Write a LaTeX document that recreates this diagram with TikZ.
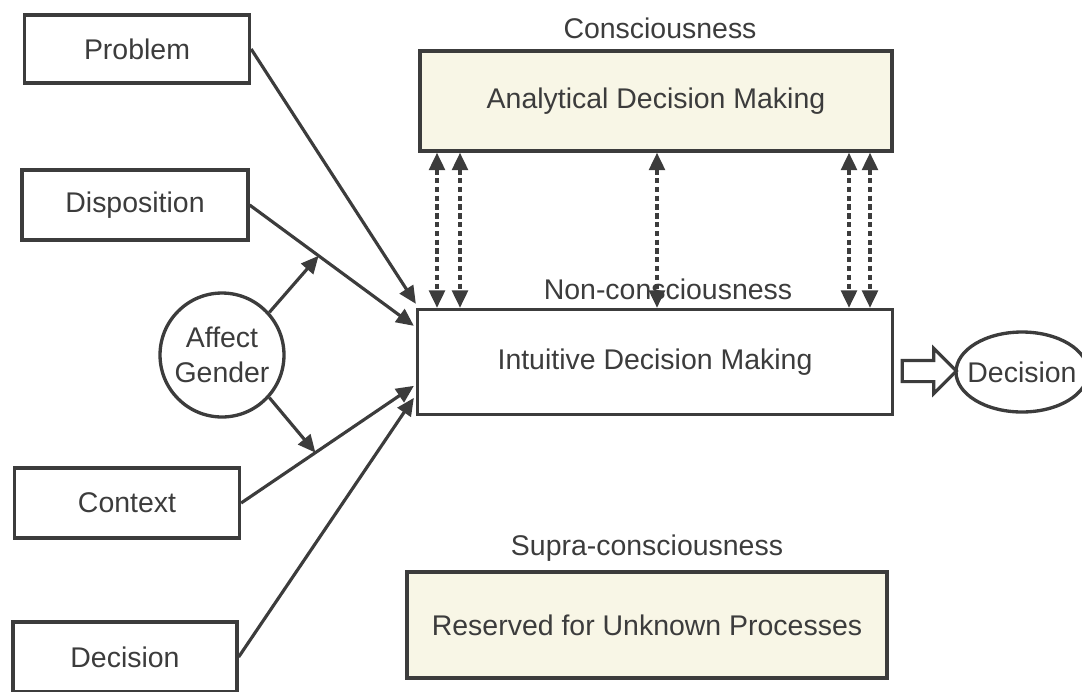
\documentclass[tikz,border=0pt]{standalone}
\usepackage{fontspec}
\setmainfont{Liberation Sans}
\usetikzlibrary{arrows.meta,calc,shapes.arrows}

\definecolor{inkgray}{HTML}{3C3C3C}
\definecolor{paleyellow}{HTML}{F8F6E6}

\tikzset{
	box/.style={draw=inkgray, line width=1.9pt, text=inkgray, inner sep=0pt},
	label/.style={text=inkgray, inner sep=0pt},
	flow/.style={draw=inkgray, line width=1.8pt, -{Triangle[length=10pt,width=9pt]}},
	link/.style={draw=inkgray, line width=2pt, dash pattern=on 3pt off 2pt,
		{Triangle[length=10pt,width=9pt]}-{Triangle[length=10pt,width=9pt]}},
}

\begin{document}
\begin{tikzpicture}[x=0.02cm, y=-0.02cm, font=\fontsize{16.2}{19}\selectfont]
		\useasboundingbox (0,0) rectangle (1082,691);
		
		% Inputs
			\node [box, minimum width=4.5cm, minimum height=1.36cm] (prob) at (137,49) {Problem};
			\node [box, minimum width=4.52cm, minimum height=1.4cm] (disp) at (135,205) {Disposition};
			\node [box, minimum width=4.5cm, minimum height=1.4cm] (cont) at (127,503) {Context};
			\node [box, minimum width=4.48cm, minimum height=1.4cm] (deci) at (125,657) {Decision};
			\node [box, circle, minimum size=2.48cm, align=center] (aff) at (222,355) {Affect\\[1pt]Gender};
			
		% Levels
			\node [label] (conl) at (660,28) {Consciousness};
			\node [box, fill=paleyellow, minimum width=9.44cm, minimum height=2.0cm] (ana) at (656,101) {Analytical Decision Making};
			\node [label] (nonl) at (668,289) {Non-consciousness};
			\node [box, fill=white, minimum width=9.5cm, minimum height=2.1cm] (intu) at (655,362) {Intuitive Decision Making};
			\node [label] (supl) at (647,548) {Supra-consciousness};
			\node [box, fill=paleyellow, minimum width=9.6cm, minimum height=2.12cm] (supr) at (647,625) {Reserved for Unknown Processes};
			
		% Output
			\node [label] (out) at (1022,372) {Decision};
			\draw [inkgray, line width=1.9pt] (out) ellipse [x radius=1.32cm, y radius=0.8cm];
			\node [draw=inkgray, line width=1.8pt, single arrow, minimum width=0.84cm, minimum height=1.08cm,
				inner sep=0pt, inner ysep=0.18cm, single arrow head extend=0.24cm] (hollow) at (924,371) {};
			
		% Arrows into intuitive level
			\draw [flow] (prob.east) -- ($(intu.north west)+(0,-4)$);
			\draw [flow] (disp.east) -- ($(intu.north west)+(-2,18)$);
			\draw [flow] (cont.east) -- ($(intu.north west)+(-2,78)$);
			\draw [flow] (deci.east) -- ($(intu.north west)+(-2,90)$);
			\path (disp.east) -- ($(intu.north west)+(-2,18)$) coordinate [pos=0.42] (dmid);
			\path (cont.east) -- ($(intu.north west)+(-2,78)$) coordinate [pos=0.43] (cmid);
			\draw [flow] (aff.42) -- (dmid);
			\draw [flow] (aff.-42) -- (cmid);
			
		% Links between levels
			\foreach \x in {437,460,657,849,870}
				\draw [link] (ana.south -| \x,0) -- (intu.north -| \x,0);
			
		\end{tikzpicture}
\end{document}
